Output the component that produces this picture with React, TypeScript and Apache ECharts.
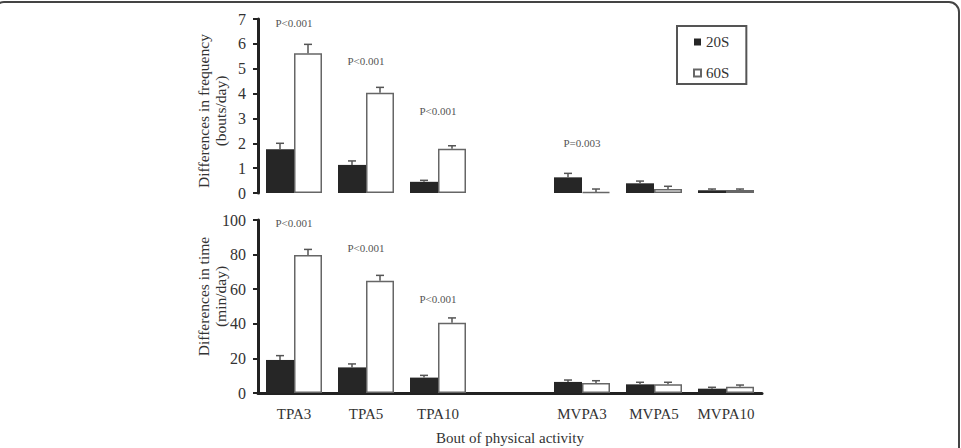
import React, { useEffect, useRef } from "react";
import * as echarts from "echarts";

const categories = ["TPA3", "TPA5", "TPA10", "", "MVPA3", "MVPA5", "MVPA10"];
const seriesNames = ["20S", "60S"];

const freq20 = [1.76, 1.13, 0.45, null, 0.63, 0.39, 0.11];
const freq20Err = [0.24, 0.16, 0.06, null, 0.16, 0.09, 0.05];
const freq60 = [5.62, 4.03, 1.78, null, 0.04, 0.16, 0.12];
const freq60Err = [0.36, 0.22, 0.12, null, 0.12, 0.11, 0.04];

const time20 = [19.1, 14.8, 8.9, null, 6.4, 5.0, 2.5];
const time20Err = [2.5, 2.0, 1.3, null, 1.1, 1.2, 0.8];
const time60 = [79.8, 64.9, 40.6, null, 5.8, 5.0, 3.6];
const time60Err = [3.2, 3.1, 2.8, null, 1.3, 1.2, 1.0];

const freqPText = ["P<0.001", "P<0.001", "P<0.001", null, "P=0.003", null, null];
const freqPPos = [6.85, 5.3, 3.3, null, 2.0, null, null];
const timePText = ["P<0.001", "P<0.001", "P<0.001", null, null, null, null];
const timePPos = [98.3, 83.8, 54.3, null, null, null, null];

const freqTicks = { min: 0, max: 7, interval: 1 };
const timeTicks = { min: 0, max: 100, interval: 20 };

const FONT = "'Liberation Serif', 'Times New Roman', serif";
const BAR_W = 28;
const DARK = "#262626";
const EDGE = "#666";
const TEXT = "#333";

function errData(vals: (number | null)[], errs: (number | null)[]) {
  const out: number[][] = [];
  vals.forEach((v, i) => {
    if (v != null && errs[i] != null) out.push([i, v, errs[i] as number]);
  });
  return out;
}

function pData(texts: (string | null)[], pos: (number | null)[]) {
  const out: any[] = [];
  texts.forEach((t, i) => {
    if (t != null && pos[i] != null) out.push({ value: [i, pos[i]], name: t });
  });
  return out;
}

function errSeries(gridIdx: number, vals: any[], errs: any[], offset: number) {
  return {
    type: "custom",
    xAxisIndex: gridIdx,
    yAxisIndex: gridIdx,
    z: 5,
    silent: true,
    encode: { x: 0, y: 1 },
    data: errData(vals, errs),
    renderItem: (params: any, api: any) => {
      const idx = api.value(0);
      const v = api.value(1);
      const e = api.value(2);
      const p0 = api.coord([idx, v]);
      const p1 = api.coord([idx, v + e]);
      const x = p0[0] + offset;
      return {
        type: "group",
        children: [
          {
            type: "line",
            shape: { x1: x, y1: p0[1], x2: x, y2: p1[1] },
            style: { stroke: "#555", lineWidth: 1.5 },
          },
          {
            type: "line",
            shape: { x1: x - 4, y1: p1[1], x2: x + 4, y2: p1[1] },
            style: { stroke: "#555", lineWidth: 1.5 },
          },
        ],
      };
    },
  };
}

function pSeries(gridIdx: number, texts: any[], pos: any[]) {
  const data = pData(texts, pos);
  return {
    type: "custom",
    xAxisIndex: gridIdx,
    yAxisIndex: gridIdx,
    z: 6,
    silent: true,
    encode: { x: 0, y: 1 },
    data,
    renderItem: (params: any, api: any) => {
      const p = api.coord([api.value(0), api.value(1)]);
      return {
        type: "text",
        x: p[0],
        y: p[1],
        style: {
          text: data[params.dataIndex].name,
          fill: "#555",
          font: `11px ${FONT}`,
          align: "center",
          verticalAlign: "middle",
        },
      };
    },
  };
}

export default function App() {
  const ref = useRef<HTMLDivElement>(null);
  useEffect(() => {
    if (!ref.current) return;
    const chart = echarts.init(ref.current, null, { renderer: "svg" });
    const yAxisCommon = {
      type: "value",
      splitLine: { show: false },
      axisLine: { show: true, lineStyle: { color: "#222", width: 3 } },
      axisTick: { show: true, inside: false, length: 5, lineStyle: { color: "#222", width: 2 } },
      axisLabel: { color: TEXT, fontFamily: FONT, fontSize: 16, margin: 12 },
      nameLocation: "middle",
      nameRotate: 90,
      nameGap: 29,
      nameMoveOverlap: false,
    };
    chart.setOption({
      animation: false,
      backgroundColor: "#fff",
      textStyle: { fontFamily: FONT },
      grid: [
        { left: 258, top: 19, width: 504, height: 174 },
        { left: 258, top: 220, width: 504, height: 173 },
      ],
      legend: {
        data: seriesNames,
        orient: "vertical",
        left: 677,
        top: 26,
        padding: [8, 17, 3, 16],
        itemGap: 15,
        itemWidth: 7,
        itemHeight: 7,
        icon: "rect",
        borderColor: "#555",
        borderWidth: 2,
        textStyle: { color: TEXT, fontFamily: FONT, fontSize: 15, lineHeight: 16 },
      },
      xAxis: [
        {
          type: "category",
          gridIndex: 0,
          data: categories,
          axisLine: { show: false },
          axisTick: { show: false },
          axisLabel: { show: false },
        },
        {
          type: "category",
          gridIndex: 1,
          data: categories,
          axisLine: { show: true, lineStyle: { color: "#222", width: 3 } },
          axisTick: { show: false },
          axisLabel: { color: TEXT, fontFamily: FONT, fontSize: 15, margin: 13, interval: 0 },
          name: "Bout of physical activity",
          nameLocation: "middle",
          nameGap: 37,
          nameTextStyle: { color: TEXT, fontFamily: FONT, fontSize: 15 },
        },
      ],
      yAxis: [
        {
          ...yAxisCommon,
          gridIndex: 0,
          ...freqTicks,
          name: "Differences in frequency\n(bouts/day)",
          nameTextStyle: {
            color: TEXT,
            fontFamily: FONT,
            fontSize: 15.5,
            lineHeight: 17,
            padding: [0, 10, 0, 0],
          },
        },
        {
          ...yAxisCommon,
          gridIndex: 1,
          ...timeTicks,
          name: "Differences in time\n(min/day)",
          nameTextStyle: {
            color: TEXT,
            fontFamily: FONT,
            fontSize: 15.5,
            lineHeight: 17,
            padding: [0, 0, 0, 20],
          },
        },
      ],
      series: [
        {
          name: "20S",
          type: "bar",
          xAxisIndex: 0,
          yAxisIndex: 0,
          data: freq20,
          barWidth: BAR_W,
          barGap: "0%",
          itemStyle: { color: DARK },
        },
        {
          name: "60S",
          type: "bar",
          xAxisIndex: 0,
          yAxisIndex: 0,
          data: freq60,
          barWidth: BAR_W,
          barGap: "0%",
          itemStyle: { color: "#fff", borderColor: EDGE, borderWidth: 1.5 },
        },
        {
          name: "20S",
          type: "bar",
          xAxisIndex: 1,
          yAxisIndex: 1,
          data: time20,
          barWidth: BAR_W,
          barGap: "0%",
          itemStyle: { color: DARK },
        },
        {
          name: "60S",
          type: "bar",
          xAxisIndex: 1,
          yAxisIndex: 1,
          data: time60,
          barWidth: BAR_W,
          barGap: "0%",
          itemStyle: { color: "#fff", borderColor: EDGE, borderWidth: 1.5 },
        },
        errSeries(0, freq20, freq20Err, -BAR_W / 2),
        errSeries(0, freq60, freq60Err, BAR_W / 2),
        errSeries(1, time20, time20Err, -BAR_W / 2),
        errSeries(1, time60, time60Err, BAR_W / 2),
        pSeries(0, freqPText, freqPPos),
        pSeries(1, timePText, timePPos),
      ],
      graphic: [
        {
          type: "rect",
          silent: true,
          z: 100,
          shape: { x: -6, y: 2, width: 965, height: 480, r: 10 },
          style: { fill: "none", stroke: "#444", lineWidth: 2 },
        },
      ],
    });
    return () => chart.dispose();
  }, []);
  return (
    <div
      ref={ref}
      style={{ position: "absolute", left: 0, top: 0, width: 961, height: 448 }}
    />
  );
}
